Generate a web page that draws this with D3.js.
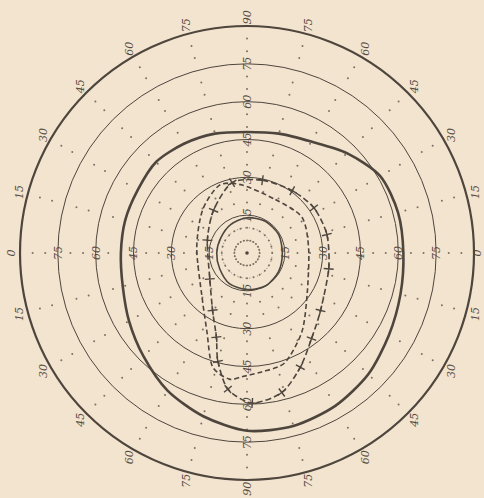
<!DOCTYPE html>
<html>
<head>
<meta charset="utf-8">
<script src="https://cdn.jsdelivr.net/npm/d3@7"></script>
<style>
  html, body { margin: 0; padding: 0; background: #f2e4cf; }
  svg { display: block; }
  text { font-family: "DejaVu Serif", serif; font-style: italic; fill: #554b42; }
</style>
</head>
<body>
<script>
const WIDTH = 484;
const HEIGHT = 498;
const CX = 247;
const CY = 253;
const R = 227;

// rings of the perimeter chart, in degrees
var rings = [15, 30, 45, 60, 75, 90];
var ringLabels = [15, 30, 45, 60, 75];
var dottedRings = [5, 10];
var gridDegrees = [5, 10, 20, 25, 35, 40, 50, 55, 65, 70, 80, 85];
// meridians, screen angle counter-clockwise from the right
var meridians = [0, 15, 30, 45, 60, 75, 90, 105, 120, 135, 150, 165, 180, 195, 210, 225, 240, 255, 270, 285, 300, 315, 330, 345];
var outerTickLabels = [0, 15, 30, 45, 60, 75, 90, 75, 60, 45, 30, 15, 0, 15, 30, 45, 60, 75, 90, 75, 60, 45, 30, 15];

// thick solid isopter, one value per meridian
var solidOuter = [62, 62, 61, 56, 51, 49, 48, 49, 50, 51, 50, 50, 50, 51, 54, 58, 63, 67, 70.5, 71, 70, 68, 65, 63];

// dashed isopter with crosses (measured points)
var crossAngles = [102, 78, 54, 34, 13, 349, 322, 307, 295, 284, 272, 262, 255, 250, 239, 215, 162, 128];
var crossValues = [28.5, 29.5, 30.5, 32, 32.5, 33, 37, 42.5, 50, 57, 59.5, 54.5, 44.5, 35.5, 26.5, 18, 16.5, 21.5];

// plain dashed isopter
var dashAngles = [94, 62, 33, 4, 327, 305, 289, 277, 268, 262, 253, 243, 226, 175, 136, 112];
var dashValues = [27, 24, 26, 24.5, 28.5, 38, 46, 47.5, 49, 50.5, 47, 35, 25.5, 20, 24.5, 29];

// small inner solid isopter
var innerAngles = [0, 30, 60, 90, 120, 150, 180, 210, 240, 270, 300, 330];
var innerValues = [14, 14.5, 14.5, 14, 13, 12, 12, 12.5, 14, 14.5, 15, 14.5];

var ink = '#4e453d';

var rScale = d3.scaleLinear().domain([0, 90]).range([0, R]);

var svg = d3.select('body').append('svg')
    .attr('width', WIDTH)
    .attr('height', HEIGHT);

var g = svg.append('g')
    .attr('transform', 'translate(' + CX + ',' + CY + ')');

function px(phi, deg) {
    var a = phi * Math.PI / 180;
    return [Math.cos(a) * rScale(deg), -Math.sin(a) * rScale(deg)];
}

// grid dots along the meridians
var dots = [];
meridians.forEach(function (m) {
    gridDegrees.forEach(function (d) { dots.push([m, d]); });
});
g.selectAll('circle.dot')
    .data(dots)
    .enter().append('circle')
    .attr('class', 'dot')
    .attr('cx', function (d) { return px(d[0], d[1])[0]; })
    .attr('cy', function (d) { return px(d[0], d[1])[1]; })
    .attr('r', 1)
    .attr('fill', '#7d7062');

g.selectAll('circle.dotted')
    .data(dottedRings)
    .enter().append('circle')
    .attr('r', function (d) { return rScale(d); })
    .attr('fill', 'none')
    .attr('stroke', '#7d7062')
    .attr('stroke-width', 1)
    .attr('stroke-dasharray', '1,3');

g.append('circle')
    .attr('r', 1.8)
    .attr('fill', ink);

g.selectAll('circle.ring')
    .data(rings)
    .enter().append('circle')
    .attr('class', 'ring')
    .attr('r', function (d) { return rScale(d); })
    .attr('fill', 'none')
    .attr('stroke', ink)
    .attr('stroke-width', function (d) { return d === 90 ? 2.2 : 1; });

// isopters
var radial = d3.lineRadial()
    .angle(function (d) { return (90 - d[0]) * Math.PI / 180; })
    .radius(function (d) { return rScale(d[1]); })
    .curve(d3.curveCardinalClosed.tension(0.2));

g.append('path')
    .attr('d', radial(meridians.map(function (m, i) { return [m, solidOuter[i]]; })))
    .attr('fill', 'none')
    .attr('stroke', ink)
    .attr('stroke-width', 2.6);

g.append('path')
    .attr('d', radial(innerAngles.map(function (m, i) { return [m, innerValues[i]]; })))
    .attr('fill', 'none')
    .attr('stroke', ink)
    .attr('stroke-width', 1.6);

g.append('path')
    .attr('d', radial(dashAngles.map(function (m, i) { return [m, dashValues[i]]; })))
    .attr('fill', 'none')
    .attr('stroke', ink)
    .attr('stroke-width', 1.6)
    .attr('stroke-dasharray', '5,3');

var crossPts = crossAngles.map(function (m, i) { return [m, crossValues[i]]; });
g.append('path')
    .attr('d', radial(crossPts))
    .attr('fill', 'none')
    .attr('stroke', ink)
    .attr('stroke-width', 1.6)
    .attr('stroke-dasharray', '6,3');

// crosses, turned to follow the curve
var n = crossPts.length;
var crosses = g.selectAll('g.cross')
    .data(crossPts)
    .enter().append('g')
    .attr('class', 'cross')
    .attr('transform', function (d, i) {
        var p = px(d[0], d[1]);
        var a = px(crossPts[(i + n - 1) % n][0], crossPts[(i + n - 1) % n][1]);
        var b = px(crossPts[(i + 1) % n][0], crossPts[(i + 1) % n][1]);
        var ang = Math.atan2(b[1] - a[1], b[0] - a[0]) * 180 / Math.PI;
        return 'translate(' + p[0] + ',' + p[1] + ') rotate(' + ang + ')';
    });
crosses.append('path')
    .attr('d', 'M-5,0L5,0M0,-5L0,5')
    .attr('stroke', ink)
    .attr('stroke-width', 1.4);

// ring labels on the four axes
var axisLabels = [];
[0, 90, 180, 270].forEach(function (m) {
    ringLabels.forEach(function (v) { axisLabels.push([m, v]); });
});
g.selectAll('text.ringlabel')
    .data(axisLabels)
    .enter().append('text')
    .attr('class', 'ringlabel')
    .attr('transform', function (d) {
        var p = px(d[0], d[1]);
        return 'translate(' + p[0] + ',' + p[1] + ') rotate(-90)';
    })
    .attr('text-anchor', 'middle')
    .attr('dy', '0.35em')
    .attr('font-size', 11)
    .text(function (d) { return d[1]; });

// labels round the outer ring (kept inside the page)
g.selectAll('text.outer')
    .data(meridians)
    .enter().append('text')
    .attr('class', 'outer')
    .attr('transform', function (d) {
        var p = px(d, 93.5);
        var x = Math.max(-CX + 7, Math.min(WIDTH - CX - 7, p[0]));
        var y = Math.max(-CY + 7, Math.min(HEIGHT - CY - 7, p[1]));
        return 'translate(' + x + ',' + y + ') rotate(-90)';
    })
    .attr('text-anchor', 'middle')
    .attr('dy', '0.35em')
    .attr('font-size', 11)
    .text(function (d, i) { return outerTickLabels[i]; });
</script>
</body>
</html>
